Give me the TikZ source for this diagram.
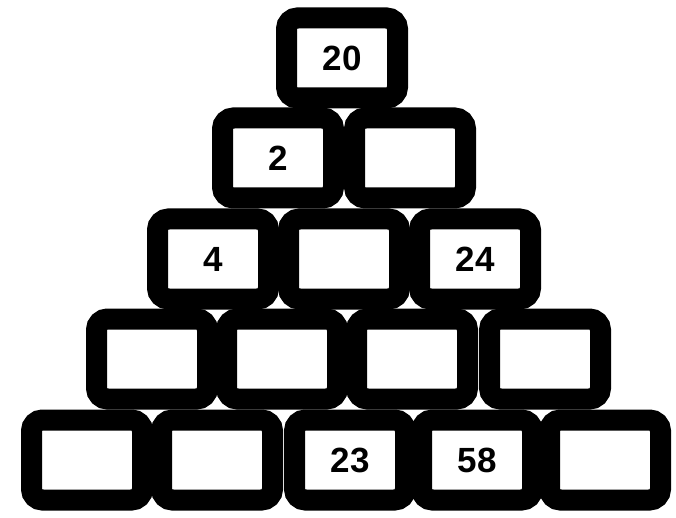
\documentclass[tikz,border=0pt]{standalone}
\usepackage{fontspec}
\setmainfont{Liberation Sans}
\begin{document}
\begin{tikzpicture}[x=1pt,y=1pt,
  brick/.style={draw=black, line width=21pt, rounded corners=11pt, fill=white,
    minimum width=111pt, minimum height=80pt, inner sep=0pt,
    font=\fontsize{35}{35}\selectfont\bfseries}]
\useasboundingbox (0,0) rectangle (676,517);
% row 1
\node[brick] (r1a) at (342,459) {20};
% row 2
\node[brick] (r2a) at (278,359) {2};
\node[brick] (r2b) at (410,359) {};
% row 3
\node[brick] (r3a) at (213,258) {4};
\node[brick] (r3b) at (344,258) {};
\node[brick] (r3c) at (475,258) {24};
% row 4
\node[brick] (r4a) at (152,158) {};
\node[brick] (r4b) at (282,158) {};
\node[brick] (r4c) at (412,158) {};
\node[brick] (r4d) at (545,158) {};
% row 5
\node[brick] (r5a) at (87,57) {};
\node[brick] (r5b) at (217,57) {};
\node[brick] (r5c) at (350,57) {23};
\node[brick] (r5d) at (477,57) {58};
\node[brick] (r5e) at (605,57) {};
\end{tikzpicture}
\end{document}
